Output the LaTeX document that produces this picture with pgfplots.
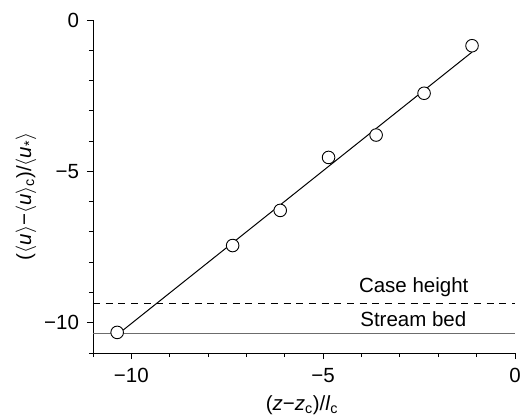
\documentclass[border=0pt]{standalone}
\usepackage{fontspec}
\setmainfont{Liberation Sans}
\usepackage{pgfplots}
\pgfplotsset{compat=1.18}
\newcommand{\bigf}{\fontsize{20.5bp}{24bp}\selectfont}
\begin{document}
\bigf
\begin{tikzpicture}[font=\bigf]
\begin{axis}[
  scale only axis,
  width=422bp, height=333bp,
  xmin=-11, xmax=0, ymin=-11, ymax=0,
  axis lines*=left,
  axis line style={line width=0.9bp},
  tick align=outside,
  major tick length=6bp,
  minor tick length=4bp,
  every tick/.style={black, line width=0.9bp},
  xtick={-10,-5,0}, xticklabels={−10,−5,0},
  ytick={-10,-5,0}, yticklabels={−10,−5,0},
  minor xtick={-11,-9,-8,-7,-6,-4,-3,-2,-1},
  minor ytick={-11,-9,-8,-7,-6,-4,-3,-2,-1},
  tick label style={font=\bigf},
  label style={font=\bigf},
  xticklabel style={yshift=-2bp},
  yticklabel style={xshift=-1bp},
  xlabel={(\textit{z}−\textit{z}\textsubscript{c})/\textit{l}\textsubscript{c}},
  ylabel={($\langle$\textit{u}$\rangle$−$\langle$\textit{u}$\rangle$\textsubscript{c})/$\langle$\textit{u}\textsubscript{*}$\rangle$},
  xlabel style={at={(axis description cs:0.495,0)}, anchor=center, yshift=-52bp},
  ylabel style={at={(axis description cs:-0.159,0.47)}, anchor=center},
  clip=false,
]
\addplot[gray!85!black, line width=1bp] coordinates {(-11,-10.37) (0,-10.37)};
\addplot[black, line width=1.2bp, dash pattern=on 7bp off 5.7bp] coordinates {(-11,-9.37) (0,-9.37)};
\addplot[black, line width=1bp] coordinates {(-10.37,-10.40) (-1.12,-1.06)};
\addplot[only marks, mark=*, mark size=6.3bp, mark options={fill=white, draw=black, line width=0.9bp}] coordinates {
(-10.37,-10.32) (-7.36,-7.45) (-6.12,-6.29) (-4.86,-4.54) (-3.62,-3.80) (-2.37,-2.42) (-1.12,-0.85)};
\node[anchor=base, font=\bigf] at (axis cs:-2.64,-9.01) {Case height};
\node[anchor=base, font=\bigf] at (axis cs:-2.65,-10.13) {Stream bed};
\end{axis}
\pgfresetboundingbox
\path[use as bounding box] (current axis.south west) ++(-93bp,-64bp) rectangle ++(524bp,417bp);
\end{tikzpicture}
\end{document}
